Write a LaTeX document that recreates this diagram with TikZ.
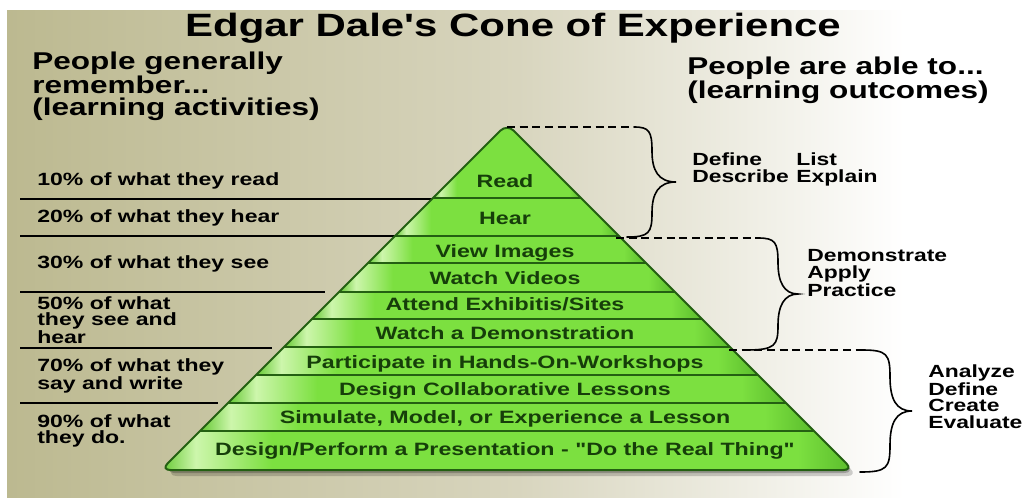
\documentclass[tikz,border=0pt]{standalone}
\usepackage{fontspec}
\setmainfont{Liberation Sans}[FakeStretch=1.3, Ligatures=TeXOff]
\usetikzlibrary{calc}
\definecolor{bgA}{RGB}{188,185,144}
\definecolor{bgB}{RGB}{216,213,190}
\definecolor{bgC}{RGB}{240,239,230}
\definecolor{gEdge}{RGB}{100,200,50}
\definecolor{gHL}{RGB}{205,246,172}
\definecolor{gMain}{RGB}{124,224,64}
\definecolor{gDark}{RGB}{90,188,44}
\definecolor{gLine}{RGB}{36,96,18}
\definecolor{gText}{RGB}{22,62,10}
\pgfdeclarehorizontalshading{bgshade}{100bp}{color(0bp)=(bgA); color(25bp)=(bgA); color(50bp)=(bgB); color(62bp)=(bgC); color(69bp)=(white); color(100bp)=(white)}
\pgfdeclarehorizontalshading{bandshade}{100bp}{color(0bp)=(gEdge); color(25bp)=(gEdge); color(27.5bp)=(gHL); color(33bp)=(gMain); color(71bp)=(gMain); color(75bp)=(gDark); color(100bp)=(gDark)}
\newcommand\curlyb[6]{%
  \pgfmathsetmacro\ym{(#2+#4)/2}%
  \pgfmathsetmacro\qa{#2+(#4-#2)*0.22}%
  \pgfmathsetmacro\qb{#4-(#4-#2)*0.22}%
  \draw[bracestyle] (#1,#2) .. controls (#5-3,#2) and (#5,#2+4) .. (#5,\qa)
    .. controls (#5,\ym-12) and (#5+6,\ym) .. (#6,\ym)
    .. controls (#5+6,\ym) and (#5,\ym+12) .. (#5,\qb)
    .. controls (#5,#4-4) and (#5-3,#4) .. (#3,#4);}
\begin{document}
\begin{tikzpicture}[x=0.75pt,y=-0.75pt,
  bracestyle/.style={black, line width=1.2pt, line cap=round},
  dashline/.style={black, line width=1.1pt, dash pattern=on 6pt off 3.5pt},
  divline/.style={black, line width=1.8pt},
  sepline/.style={gLine, line width=1.2pt},
  lefttxt/.style={anchor=base west, inner sep=0pt, align=left, font=\fontsize{13.3}{12}\selectfont\bfseries},
  righttxt/.style={anchor=base west, inner sep=0pt, align=left, font=\fontsize{13.2}{12.3}\selectfont\bfseries},
  headtxt/.style={anchor=base west, inner sep=0pt, align=left, font=\fontsize{18.2}{16.2}\selectfont\bfseries},
  pyrtxt/.style={anchor=base, inner sep=0pt, text=gText, font=\fontsize{13.4}{14}\selectfont\bfseries}]
\useasboundingbox (0,0) rectangle (1027,497);
\fill[white] (0,0) rectangle (1027,497);
\shade[shading=bgshade] (7,10) rectangle (1027,497);

% left divider lines
\draw[divline] (20,199) -- (436,199);
\draw[divline] (20,236) -- (397,236);
\draw[divline] (20,292) -- (325,292);
\draw[divline] (20,348) -- (272,348);
\draw[divline] (20,403) -- (218,403);

% shadow
\fill[black, opacity=0.18, rounded corners=8pt] (509,133) -- (858,476) -- (166,476) -- cycle;
\fill[black, opacity=0.22, rounded corners=8pt] (508,131) -- (855,473) -- (164,473) -- cycle;

% pyramid bands
\begin{scope}
\clip[rounded corners=7pt] (507,124) -- (853,470) -- (161,470) -- cycle;
\foreach \ya/\yb in {124/198,198/236,236/263,263/292,292/319,319/347,347/375,375/403,403/431,431/470}{
  \pgfmathsetmacro\xla{507-(\ya-124)*1.0}
  \pgfmathsetmacro\xra{507+(\ya-124)*1.0}
  \pgfmathsetmacro\xlb{507-(\yb-124)*1.0}
  \pgfmathsetmacro\xrb{507+(\yb-124)*1.0}
  \shade[shading=bandshade] (\xla,\ya) -- (\xra,\ya) -- (\xrb,\yb) -- (\xlb,\yb) -- cycle;
}
\foreach \y in {198,236,263,292,319,347,375,403,431}{
  \draw[sepline] ({507-(\y-124)},\y) -- ({507+(\y-124)},\y);
}
\end{scope}
\draw[gLine, line width=1.5pt, rounded corners=7pt] (507,124) -- (853,470) -- (161,470) -- cycle;

% pyramid labels
\node[pyrtxt] (read) at (505,187) {Read};
\node[pyrtxt] (hear) at (505,224) {Hear};
\node[pyrtxt] (view) at (505,257) {View Images};
\node[pyrtxt] (videos) at (505,284) {Watch Videos};
\node[pyrtxt] (attend) at (505,310) {Attend Exhibitis/Sites};
\node[pyrtxt] (demo) at (505,339) {Watch a Demonstration};
\node[pyrtxt] (part) at (505,368) {Participate in Hands-On-Workshops};
\node[pyrtxt] (collab) at (505,395) {Design Collaborative Lessons};
\node[pyrtxt] (sim) at (505,423) {Simulate, Model, or Experience a Lesson};
\node[pyrtxt] (real) at (505,455) {Design/Perform a Presentation - "Do the Real Thing"};

% title and headers (multi-line nodes: base = last line)
\node[anchor=base, inner sep=0pt, font=\fontsize{24.2}{28}\selectfont\bfseries] (title) at (513,36) {Edgar Dale's Cone of Experience};
\node[headtxt] (lhead) at (32,115) {People generally\\remember...\\(learning activities)};
\node[headtxt] (rhead) at (687,98) {People are able to...\\(learning outcomes)};

% left texts
\node[lefttxt] (p10) at (37,185) {10\% of what they read};
\node[lefttxt] (p20) at (37,222) {20\% of what they hear};
\node[lefttxt] (p30) at (37,268) {30\% of what they see};
\node[lefttxt] (p50) at (37,343) {50\% of what\\they see and\\hear};
\node[lefttxt] (p70) at (37,389) {70\% of what they\\say and write};
\node[lefttxt] (p90) at (37,443) {90\% of what\\they do.};

% dashed lines and braces
\coordinate (apex) at (507,127);
\coordinate (b1t) at (634,127);
\coordinate (e2) at (616,238);
\coordinate (b2t) at (758,238);
\coordinate (e3) at (729,350);
\coordinate (b3t) at (862,350);
\draw[dashline] (apex) -- (b1t);
\draw[dashline] (e2) -- (b2t);
\draw[dashline] (e3) -- (b3t);
\curlyb{634}{127}{627}{237}{652}{676}
\curlyb{758}{238}{745}{350}{778}{798}
\curlyb{862}{350}{860}{472}{890}{912}

% right texts
\node[righttxt] (define) at (692,182) {Define\\Describe};
\node[righttxt] (list) at (796,182) {List\\Explain};
\node[righttxt] (dem) at (807,296) {Demonstrate\\Apply\\Practice};
\node[righttxt] (ana) at (928,428) {Analyze\\Define\\Create\\Evaluate};
\end{tikzpicture}
\end{document}
